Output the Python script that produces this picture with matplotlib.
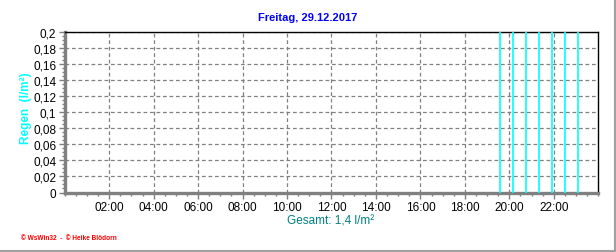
import matplotlib
matplotlib.use("Agg")
import matplotlib.pyplot as plt
from matplotlib.ticker import MultipleLocator, FixedLocator
from matplotlib.lines import Line2D

plt.rcParams['font.family'] = ['Liberation Sans', 'DejaVu Sans']

# Data: rain events (hours of day) and rain amount per event (l/m²)
rain_times = [19 + 35/60, 20 + 10/60, 20 + 45/60, 21 + 20/60, 21 + 55/60, 22 + 30/60, 23 + 5/60]
rain_values = [0.2, 0.2, 0.2, 0.2, 0.2, 0.2, 0.2]
x_tick_hours = [2, 4, 6, 8, 10, 12, 14, 16, 18, 20, 22]
x_tick_labels = ["02:00", "04:00", "06:00", "08:00", "10:00", "12:00",
                 "14:00", "16:00", "18:00", "20:00", "22:00"]
y_ticks = [0, 0.02, 0.04, 0.06, 0.08, 0.1, 0.12, 0.14, 0.16, 0.18, 0.2]
y_tick_labels = ["0", "0,02", "0,04", "0,06", "0,08", "0,1", "0,12", "0,14", "0,16", "0,18", "0,2"]
title = "Freitag, 29.12.2017"
total_label = "Gesamt: 1,4 l/m²"
y_label = "Regen  (l/m²)"
footer = "© WsWin32  -  © Heike Blödorn"

W, H = 616, 253
fig = plt.figure(figsize=(W / 100, H / 100), dpi=100)
fig.patch.set_facecolor("white")

l, r, t, b = 64.7, 598.3, 33.3, 193.5
ax = fig.add_axes([l / W, 1 - b / H, (r - l) / W, (b - t) / H])

ax.set_xlim(0, 24)
ax.set_ylim(0, 0.2)

ax.vlines(rain_times, 0, rain_values, colors="#00FFFF", linewidth=1.2, zorder=3)

ax.xaxis.set_major_locator(FixedLocator(x_tick_hours))
ax.set_xticklabels(x_tick_labels)
ax.xaxis.set_minor_locator(MultipleLocator(0.5))
ax.yaxis.set_major_locator(FixedLocator(y_ticks))
ax.set_yticklabels(y_tick_labels)
ax.yaxis.set_minor_locator(MultipleLocator(0.005))

ax.grid(True, which="major", color="#808080", linestyle=(0, (3, 2.2)), linewidth=0.9, zorder=1)

for side in ("left", "bottom"):
    ax.spines[side].set_color("#808080")
    ax.spines[side].set_linewidth(2.4)
for side in ("top", "right"):
    ax.spines[side].set_color("black")
    ax.spines[side].set_linewidth(1.0)

ax.tick_params(axis="both", which="major", colors="#808080", length=4, width=1,
               labelcolor="black", labelsize=8.5)
ax.tick_params(axis="both", which="minor", colors="#808080", length=2.5, width=1)
ax.tick_params(axis="x", pad=2)
ax.tick_params(axis="y", pad=2)

fig.text(308 / W, 1 - 18 / H, title, ha="center", va="center", color="#0000FF",
         fontsize=8, fontweight="bold")
fig.text(331 / W, 1 - 222 / H, total_label, ha="center", va="center", color="#008080",
         fontsize=8.5)
fig.text(26 / W, 1 - 108 / H, y_label, ha="center", va="center", color="#00FFFF",
         fontsize=8.5, fontweight="bold", rotation=90)
fig.text(21 / W, 1 - 239 / H, footer, ha="left", va="center", color="#FF0000",
         fontsize=4.7, fontweight="bold")

# outer frame lines (bottom and right)
fig.add_artist(Line2D([0, 615 / W], [1 - 251.5 / H, 1 - 251.5 / H], transform=fig.transFigure,
                      color="#A0A0A0", linewidth=1.5))
fig.add_artist(Line2D([614.5 / W, 614.5 / W], [1 - 251.5 / H, 1], transform=fig.transFigure,
                      color="#A0A0A0", linewidth=1.5))

fig.savefig("out.png", dpi=100, facecolor="white")
